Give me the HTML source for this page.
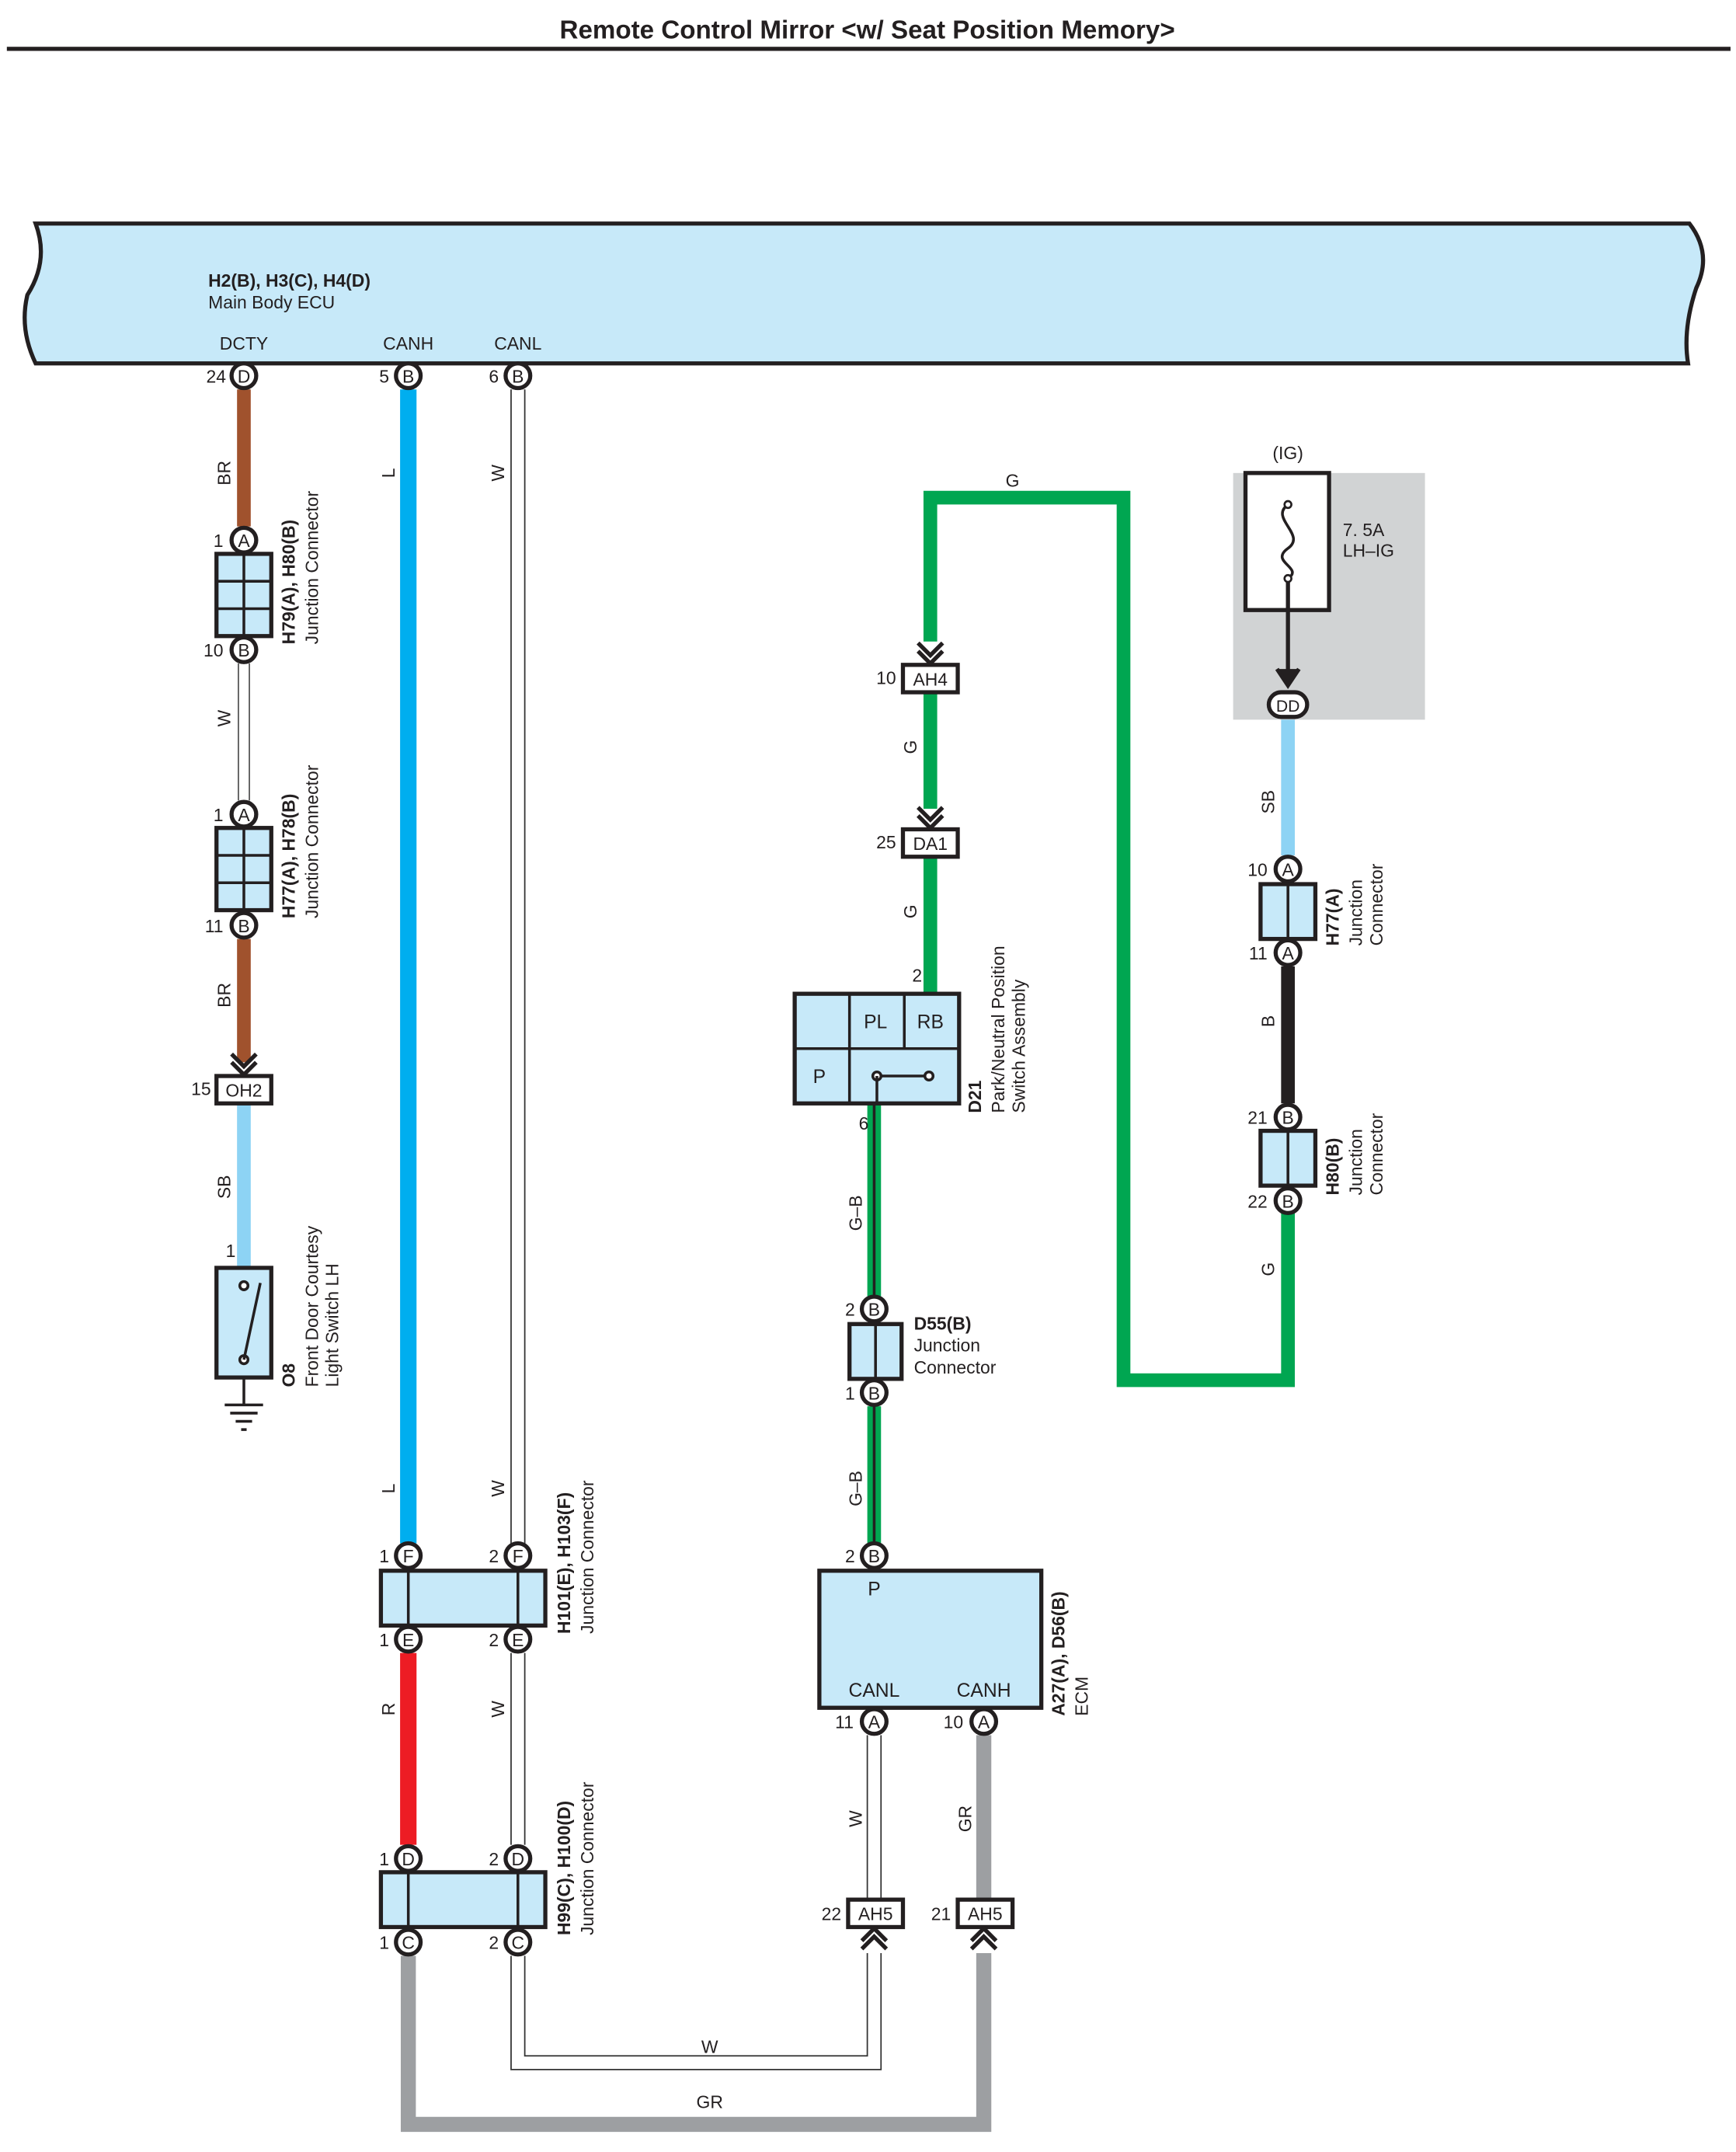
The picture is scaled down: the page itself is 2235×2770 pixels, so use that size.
<!DOCTYPE html>
<html><head><meta charset="utf-8"><style>
html,body{margin:0;padding:0;background:#fff}
svg{display:block}
text{font-family:"Liberation Sans",sans-serif;fill:#231f20}
</style></head><body>
<svg width="2235" height="2770" viewBox="0 0 1267 1570" xmlns="http://www.w3.org/2000/svg">
<defs>
<g id="chevDown"><path d="M-9,-12 L0,-3 L9,-12 M-9,-6 L0,3 L9,-6" fill="none" stroke="#231f20" stroke-width="3"/></g>
<g id="chevUp"><path d="M-9,12 L0,3 L9,12 M-9,6 L0,-3 L9,6" fill="none" stroke="#231f20" stroke-width="3"/></g>
</defs>
<text x="633" y="28" font-size="18.8" font-weight="bold" text-anchor="middle">Remote Control Mirror &lt;w/ Seat Position Memory&gt;</text>
<rect x="5" y="34" width="1258" height="3" fill="#231f20"/>

<path d="M26,163 L1233,163 Q1250,185 1238,210 Q1228,240 1232,265 L26,265 Q14,240 20,215 Q36,190 26,163 Z" fill="#c7e9f9" stroke="#231f20" stroke-width="3"/>
<text x="152" y="209" font-size="13" font-weight="bold">H2(B), H3(C), H4(D)</text>
<text x="152" y="225" font-size="13">Main Body ECU</text>
<text x="178" y="255" font-size="13" text-anchor="middle">DCTY</text>
<text x="298" y="255" font-size="13" text-anchor="middle">CANH</text>
<text x="378" y="255" font-size="13" text-anchor="middle">CANL</text>

<g fill="none" stroke-linejoin="miter">
<line x1="178" y1="284" x2="178" y2="384" stroke="#a0522d" stroke-width="10"/>
<line x1="178" y1="484" x2="178" y2="584" stroke="#555" stroke-width="9"/><line x1="178" y1="484" x2="178" y2="584" stroke="#fff" stroke-width="7"/>
<line x1="178" y1="685" x2="178" y2="775" stroke="#a0522d" stroke-width="10"/>
<line x1="178" y1="805" x2="178" y2="925" stroke="#8dd3f4" stroke-width="10"/>
<line x1="298" y1="284" x2="298" y2="1126" stroke="#00aeef" stroke-width="12"/>
<line x1="378" y1="284" x2="378" y2="1126" stroke="#333" stroke-width="11"/><line x1="378" y1="284" x2="378" y2="1126" stroke="#fff" stroke-width="9"/>
<line x1="298" y1="1206" x2="298" y2="1346" stroke="#ed1c24" stroke-width="12"/>
<line x1="378" y1="1206" x2="378" y2="1346" stroke="#333" stroke-width="11"/><line x1="378" y1="1206" x2="378" y2="1346" stroke="#fff" stroke-width="9"/>
<path d="M298,1427 L298,1550 L718,1550 L718,1425" stroke="#9d9fa2" stroke-width="11"/>
<path d="M718,1266 L718,1385" stroke="#9d9fa2" stroke-width="11"/>
<path d="M378,1427 L378,1505 L638,1505 L638,1425" stroke="#333" stroke-width="11"/>
<path d="M378,1427 L378,1505 L638,1505 L638,1425" stroke="#fff" stroke-width="9"/>
<line x1="638" y1="1266" x2="638" y2="1385" stroke="#333" stroke-width="11"/><line x1="638" y1="1266" x2="638" y2="1385" stroke="#fff" stroke-width="9"/>
<path d="M679,468 L679,363 L820,363 L820,1007 L940,1007 L940,885" stroke="#00a651" stroke-width="10"/>
<line x1="679" y1="505" x2="679" y2="590" stroke="#00a651" stroke-width="10"/>
<line x1="679" y1="625" x2="679" y2="725" stroke="#00a651" stroke-width="10"/>
<line x1="638" y1="805" x2="638" y2="946" stroke="#00a651" stroke-width="10"/><line x1="638" y1="805" x2="638" y2="946" stroke="#231f20" stroke-width="2"/>
<line x1="638" y1="1026" x2="638" y2="1126" stroke="#00a651" stroke-width="10"/><line x1="638" y1="1026" x2="638" y2="1126" stroke="#231f20" stroke-width="2"/>
<line x1="940" y1="524" x2="940" y2="624" stroke="#8dd3f4" stroke-width="10"/>
<line x1="940" y1="705" x2="940" y2="805" stroke="#231f20" stroke-width="10"/>
</g>

<g font-size="13">
<text transform="translate(168,345) rotate(-90)" text-anchor="middle">BR</text>
<text transform="translate(168,524) rotate(-90)" text-anchor="middle">W</text>
<text transform="translate(168,726) rotate(-90)" text-anchor="middle">BR</text>
<text transform="translate(168,866) rotate(-90)" text-anchor="middle">SB</text>
<text transform="translate(288,345) rotate(-90)" text-anchor="middle">L</text>
<text transform="translate(288,1086) rotate(-90)" text-anchor="middle">L</text>
<text transform="translate(288,1247) rotate(-90)" text-anchor="middle">R</text>
<text transform="translate(368,345) rotate(-90)" text-anchor="middle">W</text>
<text transform="translate(368,1086) rotate(-90)" text-anchor="middle">W</text>
<text transform="translate(368,1247) rotate(-90)" text-anchor="middle">W</text>
<text transform="translate(629,1327) rotate(-90)" text-anchor="middle">W</text>
<text transform="translate(709,1327) rotate(-90)" text-anchor="middle">GR</text>
<text x="518" y="1498" text-anchor="middle">W</text>
<text x="518" y="1538" text-anchor="middle">GR</text>
<text x="739" y="355" text-anchor="middle">G</text>
<text transform="translate(669,545) rotate(-90)" text-anchor="middle">G</text>
<text transform="translate(669,665) rotate(-90)" text-anchor="middle">G</text>
<text transform="translate(629,885) rotate(-90)" text-anchor="middle">G–B</text>
<text transform="translate(629,1086) rotate(-90)" text-anchor="middle">G–B</text>
<text transform="translate(930,585) rotate(-90)" text-anchor="middle">SB</text>
<text transform="translate(930,745) rotate(-90)" text-anchor="middle">B</text>
<text transform="translate(930,926) rotate(-90)" text-anchor="middle">G</text>
</g>

<g font-size="13">
<g stroke="#231f20" stroke-width="3" fill="#fff">
<circle cx="178" cy="274" r="9"/><circle cx="298" cy="274" r="9"/><circle cx="378" cy="274" r="9"/>
<circle cx="178" cy="394" r="9"/><circle cx="178" cy="474" r="9"/>
<circle cx="178" cy="594" r="9"/><circle cx="178" cy="675" r="9"/>
<circle cx="298" cy="1135" r="9"/><circle cx="378" cy="1135" r="9"/>
<circle cx="298" cy="1196" r="9"/><circle cx="378" cy="1196" r="9"/>
<circle cx="298" cy="1356" r="9"/><circle cx="378" cy="1356" r="9"/>
<circle cx="298" cy="1417" r="9"/><circle cx="378" cy="1417" r="9"/>
<circle cx="638" cy="955" r="9"/><circle cx="638" cy="1016" r="9"/>
<circle cx="638" cy="1135" r="9"/>
<circle cx="638" cy="1256" r="9"/><circle cx="718" cy="1256" r="9"/>
<circle cx="940" cy="634" r="9"/><circle cx="940" cy="695" r="9"/>
<circle cx="940" cy="815" r="9"/><circle cx="940" cy="876" r="9"/>
</g>
<g text-anchor="middle">
<text x="178" y="279">D</text><text x="298" y="279">B</text><text x="378" y="279">B</text>
<text x="178" y="399">A</text><text x="178" y="479">B</text>
<text x="178" y="599">A</text><text x="178" y="680">B</text>
<text x="298" y="1140">F</text><text x="378" y="1140">F</text>
<text x="298" y="1201">E</text><text x="378" y="1201">E</text>
<text x="298" y="1361">D</text><text x="378" y="1361">D</text>
<text x="298" y="1422">C</text><text x="378" y="1422">C</text>
<text x="638" y="960">B</text><text x="638" y="1021">B</text><text x="638" y="1140">B</text>
<text x="638" y="1261">A</text><text x="718" y="1261">A</text>
<text x="940" y="639">A</text><text x="940" y="700">A</text>
<text x="940" y="820">B</text><text x="940" y="881">B</text>
</g>
<g text-anchor="end">
<text x="165" y="279">24</text><text x="284" y="279">5</text><text x="364" y="279">6</text>
<text x="163" y="399">1</text><text x="163" y="479">10</text>
<text x="163" y="599">1</text><text x="163" y="680">11</text>
<text x="154" y="799">15</text><text x="172" y="917">1</text>
<text x="284" y="1140">1</text><text x="364" y="1140">2</text>
<text x="284" y="1201">1</text><text x="364" y="1201">2</text>
<text x="284" y="1361">1</text><text x="364" y="1361">2</text>
<text x="284" y="1422">1</text><text x="364" y="1422">2</text>
<text x="654" y="499">10</text><text x="654" y="619">25</text>
<text x="673" y="716">2</text><text x="634" y="824">6</text>
<text x="624" y="960">2</text><text x="624" y="1021">1</text><text x="624" y="1140">2</text>
<text x="623" y="1261">11</text><text x="703" y="1261">10</text>
<text x="614" y="1401">22</text><text x="694" y="1401">21</text>
<text x="925" y="639">10</text><text x="925" y="700">11</text>
<text x="925" y="820">21</text><text x="925" y="881">22</text>
<text x="919" y="519">55</text>
</g>
</g>

<g stroke="#231f20" stroke-width="3" fill="#c7e9f9">
<rect x="158" y="404" width="40" height="60"/>
<rect x="158" y="604" width="40" height="60"/>
<rect x="278" y="1146" width="120" height="40"/>
<rect x="278" y="1366" width="120" height="40"/>
<rect x="620" y="966" width="38" height="40"/>
<rect x="920" y="645" width="40" height="40"/>
<rect x="920" y="825" width="40" height="40"/>
<rect x="598" y="1146" width="162" height="100"/>
<rect x="580" y="725" width="120" height="80"/>
<rect x="158" y="925" width="40" height="80"/>
</g>
<g stroke="#231f20" stroke-width="2" fill="none">
<path d="M178,404 V464 M158,424 H198 M158,444 H198"/>
<path d="M178,604 V664 M158,624 H198 M158,644 H198"/>
<path d="M298,1146 V1186 M378,1146 V1186"/>
<path d="M298,1366 V1406 M378,1366 V1406"/>
<path d="M639,966 V1006 M940,645 V685 M940,825 V865"/>
<path d="M620,725 V805 M660,725 V765 M580,765 H700"/>
</g>
<g stroke="#231f20" stroke-width="2" fill="#fff">
<line x1="640" y1="785" x2="678" y2="785"/>
<circle cx="640" cy="785" r="3"/><circle cx="678" cy="785" r="3"/>
<line x1="640" y1="785" x2="640" y2="805"/>
</g>
<g font-size="14">
<text x="598" y="790" text-anchor="middle">P</text>
<text x="639" y="750" text-anchor="middle">PL</text>
<text x="679" y="750" text-anchor="middle">RB</text>
<text x="638" y="1164" text-anchor="middle">P</text>
<text x="638" y="1238" text-anchor="middle">CANL</text>
<text x="718" y="1238" text-anchor="middle">CANH</text>
</g>
<g stroke="#231f20" stroke-width="2" fill="#fff">
<circle cx="178" cy="938" r="3"/><circle cx="178" cy="992" r="3"/>
<line x1="178" y1="992" x2="190" y2="936"/>
<path d="M178,1005 V1025 M164,1025 H192 M168,1031 H188 M172,1037 H184 M176,1043 H180" fill="none"/>
</g>

<g stroke="#231f20" stroke-width="3" fill="#fff">
<rect x="158" y="785" width="40" height="20"/>
<rect x="659" y="485" width="40" height="20"/>
<rect x="659" y="605" width="40" height="20"/>
<rect x="619" y="1386" width="40" height="20"/>
<rect x="699" y="1386" width="40" height="20"/>
</g>
<g font-size="13" text-anchor="middle">
<text x="178" y="800">OH2</text><text x="679" y="500">AH4</text><text x="679" y="620">DA1</text>
<text x="639" y="1401">AH5</text><text x="719" y="1401">AH5</text>
</g>
<use href="#chevDown" x="178" y="781"/>
<use href="#chevDown" x="679" y="481"/>
<use href="#chevDown" x="679" y="601"/>
<use href="#chevUp" x="638" y="1410"/>
<use href="#chevUp" x="718" y="1410"/>

<rect x="900" y="345" width="140" height="180" fill="#d1d3d4"/>
<text x="940" y="335" font-size="13" text-anchor="middle">(IG)</text>
<rect x="909" y="345" width="61" height="100" fill="#fff" stroke="#231f20" stroke-width="3"/>
<path d="M940,368 C926,378 954,390 940,400 C926,410 952,414 940,422" fill="none" stroke="#231f20" stroke-width="2"/>
<circle cx="940" cy="368" r="2.5" fill="#fff" stroke="#231f20" stroke-width="1.5"/>
<circle cx="940" cy="422" r="2.5" fill="#fff" stroke="#231f20" stroke-width="1.5"/>
<line x1="940" y1="424" x2="940" y2="495" stroke="#231f20" stroke-width="3"/>
<path d="M932,488 L940,500 L948,488" fill="#231f20" stroke="#231f20" stroke-width="3"/>
<text x="980" y="391" font-size="13">7. 5A</text>
<text x="980" y="406" font-size="13">LH–IG</text>
<rect x="926" y="505" width="28" height="18" rx="9" fill="#fff" stroke="#231f20" stroke-width="3"/>
<text x="940" y="519" font-size="12" text-anchor="middle">DD</text>

<g font-size="13">
<text transform="translate(215,470) rotate(-90)"><tspan font-weight="bold">H79(A), H80(B)</tspan></text>
<text transform="translate(232,470) rotate(-90)">Junction Connector</text>
<text transform="translate(215,670) rotate(-90)"><tspan font-weight="bold">H77(A), H78(B)</tspan></text>
<text transform="translate(232,670) rotate(-90)">Junction Connector</text>
<text transform="translate(215,1012) rotate(-90)" font-weight="bold">O8</text>
<text transform="translate(232,1012) rotate(-90)">Front Door Courtesy</text>
<text transform="translate(247,1012) rotate(-90)">Light Switch LH</text>
<text transform="translate(416,1192) rotate(-90)" font-weight="bold">H101(E), H103(F)</text>
<text transform="translate(433,1192) rotate(-90)">Junction Connector</text>
<text transform="translate(416,1412) rotate(-90)" font-weight="bold">H99(C), H100(D)</text>
<text transform="translate(433,1412) rotate(-90)">Junction Connector</text>
<text transform="translate(716,812) rotate(-90)" font-weight="bold">D21</text>
<text transform="translate(733,812) rotate(-90)">Park/Neutral Position</text>
<text transform="translate(748,812) rotate(-90)">Switch Assembly</text>
<text x="667" y="970" font-weight="bold">D55(B)</text>
<text x="667" y="986">Junction</text>
<text x="667" y="1002">Connector</text>
<text transform="translate(777,1252) rotate(-90)" font-weight="bold">A27(A), D56(B)</text>
<text transform="translate(794,1252) rotate(-90)">ECM</text>
<text transform="translate(977,690) rotate(-90)" font-weight="bold">H77(A)</text>
<text transform="translate(994,690) rotate(-90)">Junction</text>
<text transform="translate(1009,690) rotate(-90)">Connector</text>
<text transform="translate(977,872) rotate(-90)" font-weight="bold">H80(B)</text>
<text transform="translate(994,872) rotate(-90)">Junction</text>
<text transform="translate(1009,872) rotate(-90)">Connector</text>
</g>
</svg>
</body></html>
